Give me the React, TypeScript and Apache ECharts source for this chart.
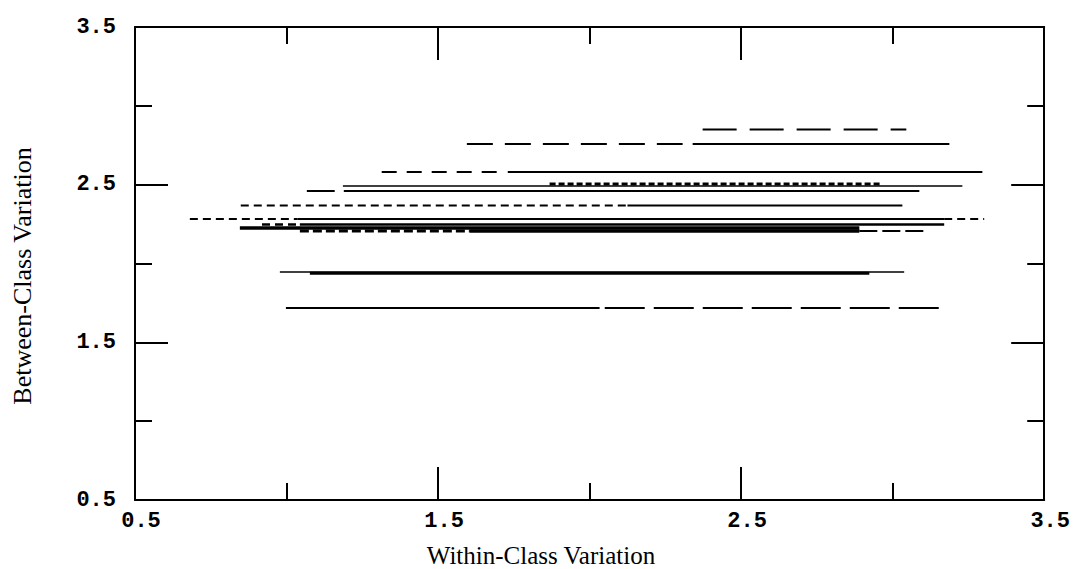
import React, { useEffect, useRef } from "react";
import * as echarts from "echarts";

// Horizontal segments: level (between-class), start and end (within-class)
const segY = [
  2.85, 2.758, 2.758, 2.58, 2.58, 2.492, 2.504, 2.46, 2.46, 2.368, 2.368, 2.282,
  2.282, 2.282, 2.247, 2.247, 2.225, 2.206, 2.206, 2.206, 1.946, 1.938, 1.718, 1.718,
];
const segX0 = [
  2.373, 1.595, 2.34, 1.314, 1.73, 1.186, 1.868, 1.067, 1.189, 0.849, 2.125, 0.681,
  1.037, 3.17, 0.919, 1.044, 0.846, 1.044, 1.605, 2.89, 0.978, 1.077, 0.998, 2.05,
];
const segX1 = [
  3.045, 2.307, 3.187, 1.7, 3.296, 3.23, 2.966, 1.159, 3.088, 2.125, 3.032, 1.037,
  3.17, 3.302, 1.044, 3.17, 2.89, 1.605, 2.89, 3.111, 3.038, 2.923, 2.033, 3.17,
];

// Styles (kept apart from the values)
const dashPatterns: Record<string, any> = {
  solid: "solid",
  long: [34, 13],
  medium: [26, 12],
  short: [15, 10],
  tiny: [8, 5],
  bead: [9, 4],
  dots: [6, 3],
  seg: [18, 5],
  longer: [40, 9],
};
const segStyle = [
  "long", "medium", "solid", "short", "solid", "solid", "dots", "solid", "solid", "tiny", "solid", "tiny",
  "solid", "tiny", "tiny", "solid", "solid", "bead", "solid", "seg", "solid", "solid", "solid", "longer",
];
const segWidth = [
  2, 2, 2, 2, 2, 1.5, 3, 2, 2, 2, 2, 2,
  2, 2, 2.5, 2.5, 3.5, 3, 3.5, 2, 1.5, 3, 2, 2,
];

const axisMin = 0.5;
const axisMax = 3.5;
const axisStep = 1;
const xTitle = "Within-Class Variation";
const yTitle = "Between-Class Variation";

export default function App() {
  const ref = useRef<HTMLDivElement>(null);
  useEffect(() => {
    if (!ref.current) return;
    const chart = echarts.init(ref.current, undefined, { renderer: "svg" });
    const labelFont = {
      fontFamily: "Liberation Mono",
      fontWeight: "bold" as const,
      fontSize: 22,
      color: "#000",
    };
    const common = {
      type: "value" as const,
      min: axisMin,
      max: axisMax,
      interval: axisStep,
      splitLine: { show: false },
      axisLine: { show: true, onZero: false, lineStyle: { color: "#000", width: 2 } },
      axisTick: { show: true, inside: true, length: 33, lineStyle: { color: "#000", width: 2 } },
      minorTick: { show: true, splitNumber: 2, length: 17, lineStyle: { color: "#000", width: 2 } },
      minorSplitLine: { show: false },
    };
    const series = segY.map((y, i) => ({
      type: "line" as const,
      xAxisIndex: 0,
      yAxisIndex: 0,
      data: [
        [segX0[i], y],
        [segX1[i], y],
      ],
      symbol: "none",
      silent: true,
      lineStyle: { color: "#000", width: segWidth[i], type: dashPatterns[segStyle[i]], cap: "butt" },
    }));
    chart.setOption({
      animation: false,
      backgroundColor: "#fff",
      grid: { left: 135, right: 28, top: 27, bottom: 69, containLabel: false },
      xAxis: [
        {
          ...common,
          position: "bottom",
          axisLabel: { ...labelFont, margin: 10, padding: [0, 0, 0, 12] },
        },
        { ...common, position: "top", axisLabel: { show: false } },
      ],
      yAxis: [
        {
          ...common,
          position: "left",
          axisLabel: { ...labelFont, margin: 19, padding: [0, 0, 13, 0] },
        },
        { ...common, position: "right", axisLabel: { show: false } },
      ],
      graphic: [
        {
          type: "text",
          x: 541,
          y: 555,
          style: {
            text: xTitle,
            font: "25px 'Liberation Serif'",
            fill: "#000",
            align: "center",
            verticalAlign: "middle",
          },
        },
        {
          type: "text",
          x: 22,
          y: 276,
          rotation: Math.PI / 2,
          style: {
            text: yTitle,
            font: "26px 'Liberation Serif'",
            fill: "#000",
            align: "center",
            verticalAlign: "middle",
          },
        },
      ],
      series,
    });
    return () => chart.dispose();
  }, []);
  return (
    <div
      ref={ref}
      style={{ position: "fixed", left: 0, top: 0, width: 1073, height: 569, background: "#fff" }}
    />
  );
}
